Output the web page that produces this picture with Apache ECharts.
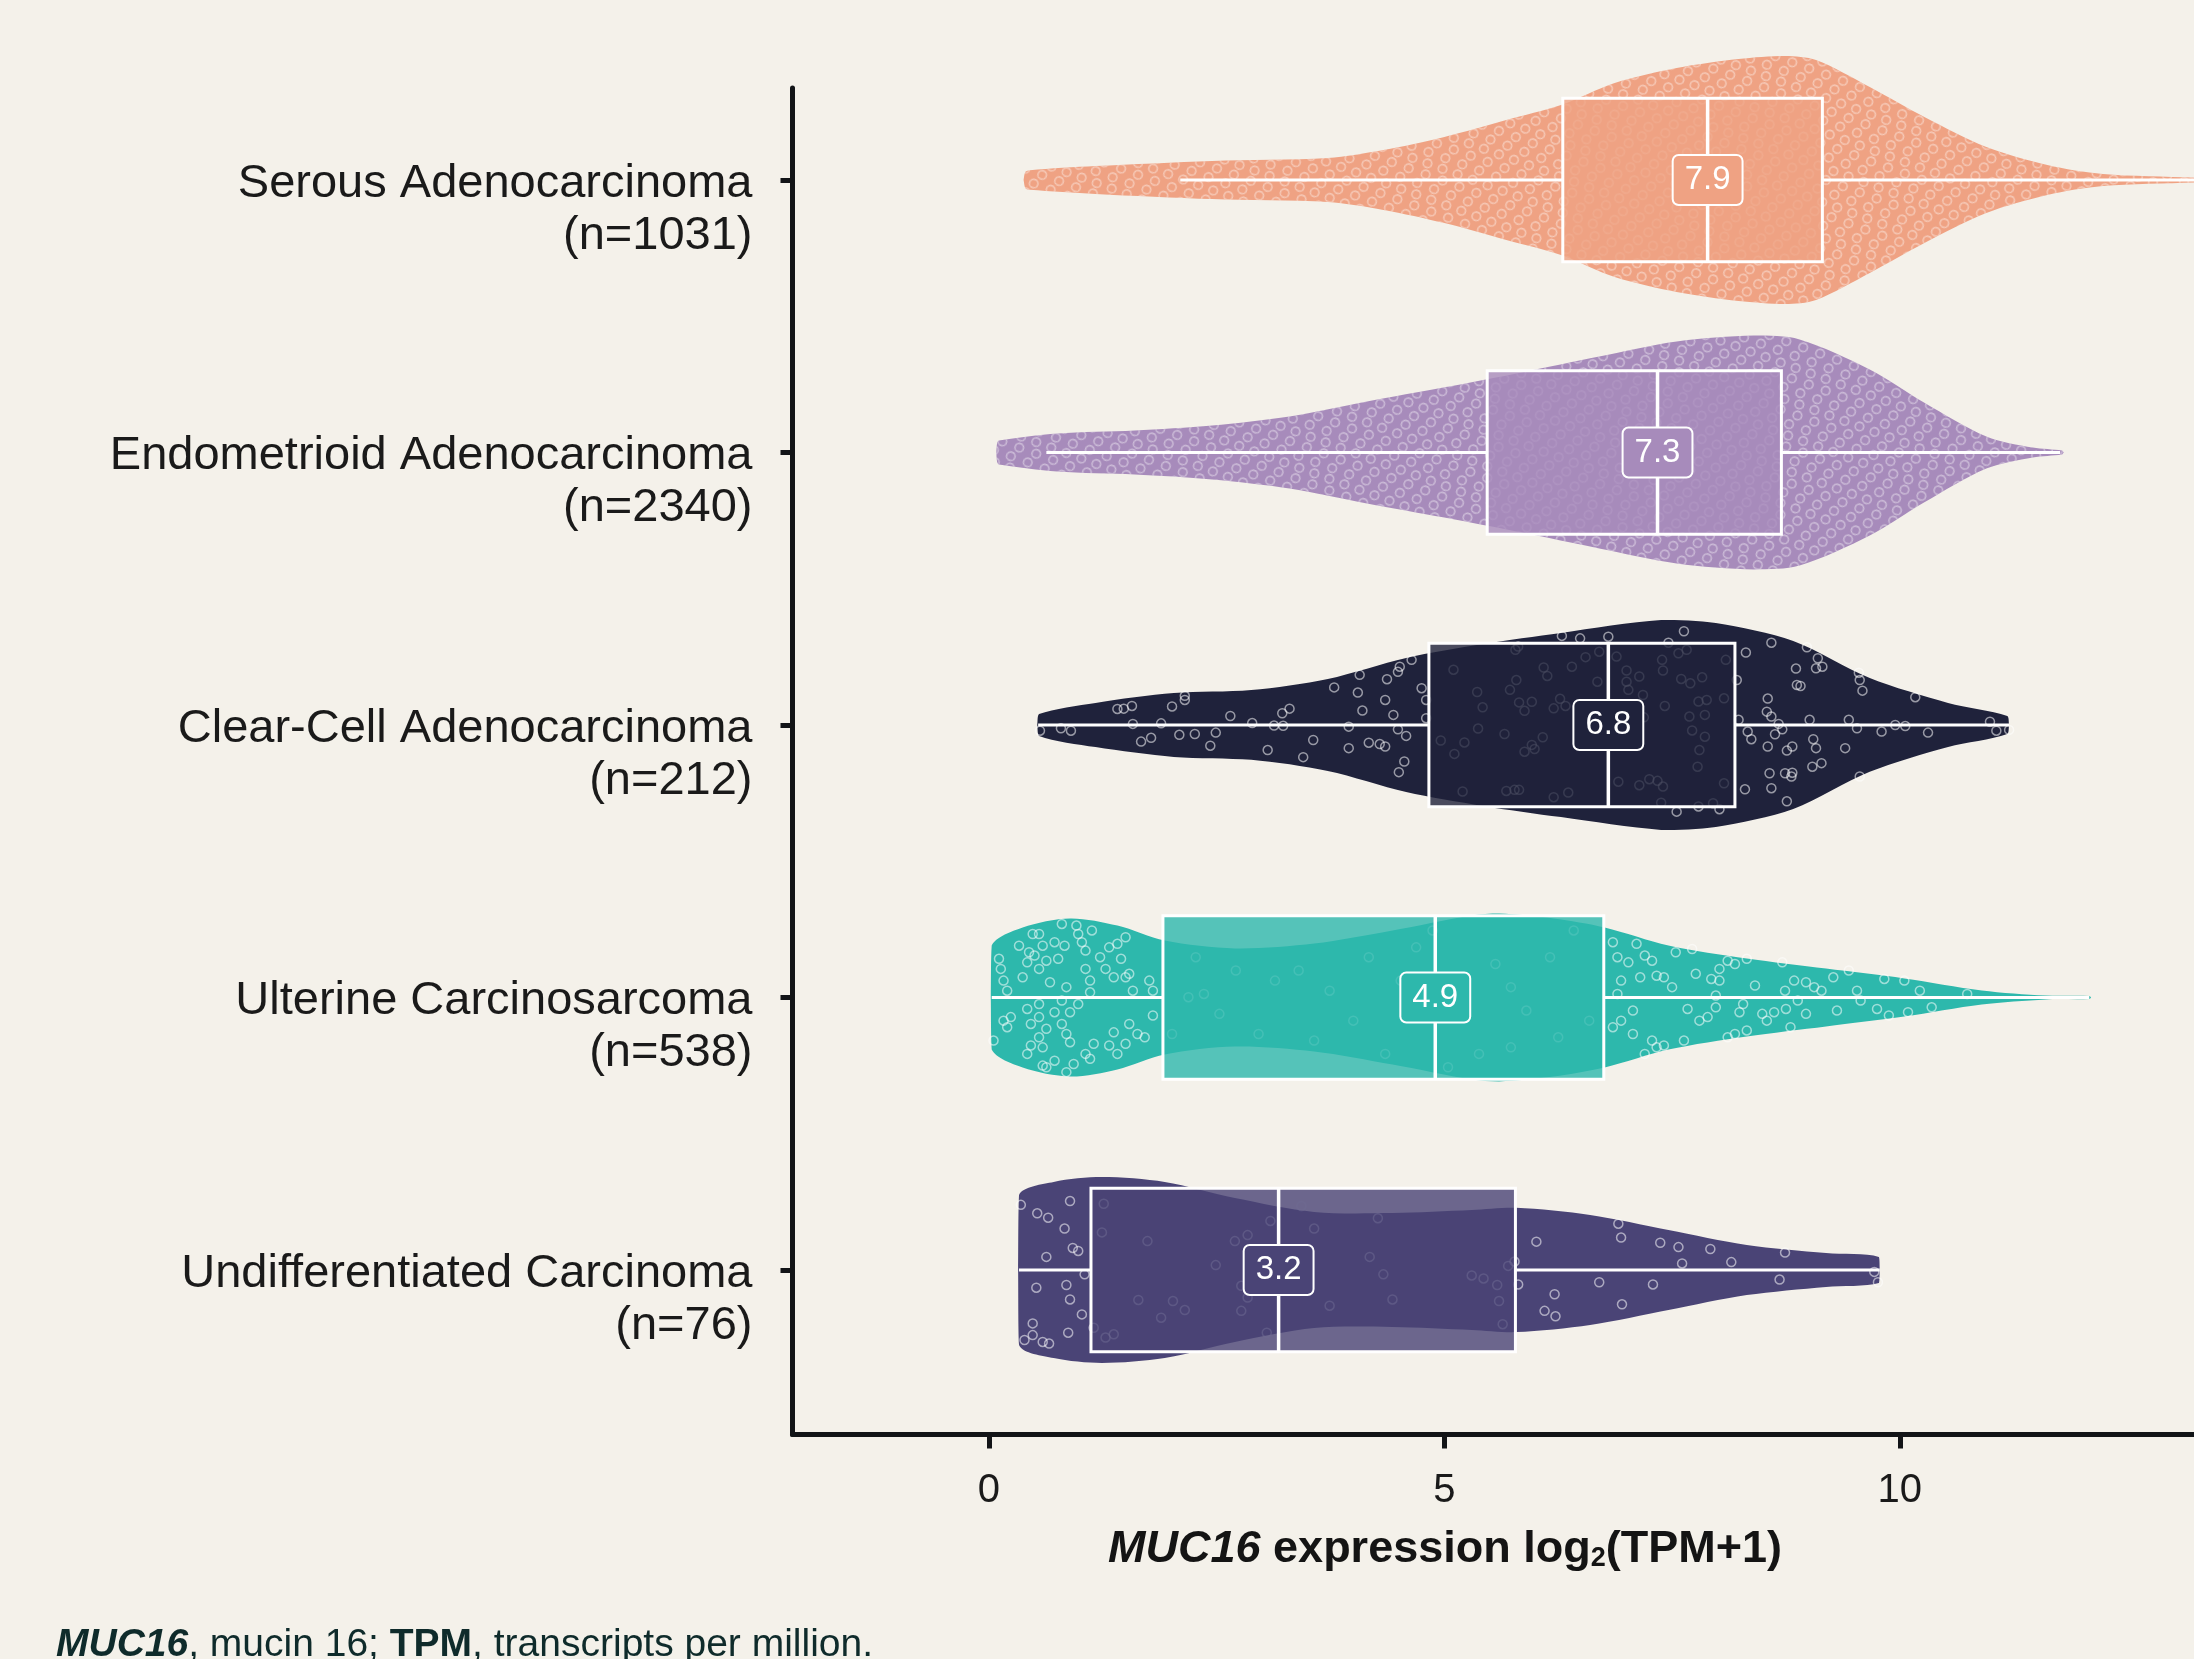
<!DOCTYPE html>
<html lang="en">
	<head>
		<meta charset="utf-8" />
		<title>MUC16 expression by histology</title>
		<style>
			html, body { margin: 0; background: #f4f1ea; }
		</style>
	</head>
	<body>
		<div id="main" style="width: 2194px;height: 1659px"></div>

		<script src="https://cdn.jsdelivr.net/npm/echarts@6/dist/echarts.min.js"></script>
		<script type="text/javascript">
			const categories = ['Serous Adenocarcinoma', 'Endometrioid Adenocarcinoma', 'Clear-Cell Adenocarcinoma', 'Ulterine Carcinosarcoma', 'Undifferentiated Carcinoma'];
			const counts = [1031, 2340, 212, 538, 76];
			const colors = ['#efa283', '#a78bbb', '#1f223b', '#2db8ac', '#4a4476'];
			const medians = [7.89, 7.34, 6.80, 4.90, 3.18];
			const q1 = [6.30, 5.47, 4.83, 1.91, 1.12];
			const q3 = [9.15, 8.70, 8.19, 6.75, 5.78];
			const whiskerLow = [2.10, 0.63, 0.54, 0.03, 0.33];
			const whiskerHigh = [13.4, 11.76, 11.20, 12.08, 9.78];
			const xTicks = [0, 5, 10];

			// violin outlines: [log2(TPM+1), half width in category units]
			const violinSerous = [[0.38, 0], [0.40, 0.03], [0.45, 0.036], [1.17, 0.051], [2.45, 0.070], [3.72, 0.081], [4.33, 0.110], [5.0, 0.158], [5.68, 0.220], [6.28, 0.275], [6.87, 0.356], [7.55, 0.411], [8.23, 0.444], [8.74, 0.455], [9.08, 0.440], [9.67, 0.341], [10.27, 0.231], [10.95, 0.121], [11.62, 0.055], [12.23, 0.022], [13.23, 0.009], [14.0, 0]];
			const violinEndometrioid = [[0.08, 0], [0.09, 0.035], [0.11, 0.044], [0.75, 0.070], [1.6, 0.081], [2.45, 0.099], [3.3, 0.132], [4.15, 0.187], [5.0, 0.239], [5.85, 0.294], [6.7, 0.352], [7.55, 0.407], [8.4, 0.429], [8.9, 0.415], [9.67, 0.305], [10.27, 0.183], [10.95, 0.059], [11.46, 0.018], [11.78, 0.007], [11.8, 0]];
			const violinClearCell = [[0.53, 0], [0.55, 0.040], [1.17, 0.081], [2.03, 0.117], [2.88, 0.128], [3.72, 0.169], [4.58, 0.246], [5.42, 0.297], [6.28, 0.338], [7.38, 0.385], [7.98, 0.374], [8.83, 0.308], [9.67, 0.172], [10.53, 0.081], [11.18, 0.033], [11.2, 0]];
			const violinUterine = [[0.02, 0], [0.03, 0.191], [0.37, 0.257], [0.89, 0.290], [1.41, 0.264], [1.93, 0.209], [2.7, 0.180], [3.57, 0.198], [4.43, 0.246], [5.3, 0.301], [5.6, 0.308], [6.2, 0.290], [6.76, 0.257], [7.46, 0.191], [8.32, 0.143], [9.19, 0.106], [10.05, 0.070], [10.9, 0.026], [11.6, 0.007], [12.08, 0.0055], [12.1, 0]];
			const violinUndiff = [[0.32, 0], [0.33, 0.275], [0.71, 0.323], [1.24, 0.341], [1.93, 0.323], [2.7, 0.264], [3.57, 0.213], [4.43, 0.209], [5.3, 0.220], [5.79, 0.228], [6.6, 0.202], [7.46, 0.147], [8.32, 0.092], [9.19, 0.062], [9.77, 0.048], [9.78, 0]];
			const violins = [violinSerous, violinEndometrioid, violinClearCell, violinUterine, violinUndiff];

			// individual samples: [value, jitter in category units]
			const dotsClearCell = [[0.56, 0.021], [0.79, 0.012], [0.90, 0.021], [1.41, -0.059], [1.48, -0.060], [1.57, -0.070], [1.58, -0.004], [1.67, 0.061], [1.78, 0.047], [1.89, -0.006], [2.01, -0.068], [2.09, 0.036], [2.15, -0.092], [2.15, -0.107], [2.26, 0.033], [2.43, 0.076], [2.49, 0.028], [2.65, -0.033], [2.89, -0.007], [3.06, 0.092], [3.13, 0.002], [3.22, -0.043], [3.23, 0.003], [3.30, -0.060], [3.45, 0.118], [3.56, 0.055], [3.79, -0.138], [3.95, 0.006], [3.95, 0.085], [4.05, -0.119], [4.07, -0.184], [4.10, -0.053], [4.17, 0.065], [4.29, 0.070], [4.35, 0.079], [4.35, -0.092], [4.37, -0.168], [4.44, -0.037], [4.49, 0.016], [4.49, -0.195], [4.51, -0.214], [4.56, 0.134], [4.58, 0.040], [4.50, 0.173], [4.64, -0.239], [4.75, -0.135], [4.80, -0.092], [4.80, -0.025],
				[5.10, -0.203], [4.96, 0.057], [5.11, 0.106], [5.20, 0.244], [5.22, 0.064], [5.37, 0.013], [5.36, -0.121], [5.42, -0.065], [5.66, 0.033], [5.72, -0.129], [5.79, -0.165], [5.82, -0.083], [5.88, -0.052], [5.96, -0.085], [5.88, 0.098], [5.99, 0.088], [6.08, 0.045], [5.96, 0.073], [6.09, -0.211], [6.13, -0.180], [6.20, -0.061], [6.27, -0.096], [6.33, -0.070], [6.20, 0.265], [6.36, 0.248], [5.68, 0.242], [5.77, 0.238], [5.82, 0.238], [5.78, -0.276], [5.81, -0.288], [6.29, -0.327], [6.49, -0.318], [6.55, -0.249], [6.40, -0.214], [6.68, -0.159], [6.70, -0.269], [6.80, -0.324], [6.89, -0.251], [7.00, -0.200], [7.00, -0.159], [7.02, -0.129], [7.14, -0.178], [7.18, -0.110], [7.19, -0.028], [6.91, 0.208], [7.14, 0.221], [7.25, 0.199], [7.34, 0.205], [7.40, 0.226], [7.42, -0.070], [7.39, -0.239], [7.40, -0.200], [7.46, -0.302], [7.57, -0.263], [7.63, -0.344], [7.60, -0.169], [7.66, -0.276], [7.70, -0.153], [7.69, -0.031], [7.72, 0.020], [7.79, -0.086], [7.83, -0.175], [7.86, -0.037], [7.86, 0.043], [7.88, -0.092], [7.80, 0.092], [7.78, 0.153], [8.07, -0.098], [8.09, -0.239], [8.07, 0.214], [7.38, 0.285], [7.55, 0.318], [7.79, 0.299], [8.02, 0.309], [7.95, 0.287],
				[8.21, -0.165], [8.23, -0.019], [8.31, -0.266], [8.33, 0.024], [8.37, 0.052], [8.55, -0.097], [8.54, -0.049], [8.59, -0.031], [8.55, 0.079], [8.59, -0.302], [8.67, -0.004], [8.71, 0.016], [8.63, 0.034], [8.76, 0.094], [8.82, 0.079], [8.87, -0.147], [8.91, -0.143], [8.86, -0.207], [8.98, -0.285], [9.01, -0.019], [9.05, 0.052], [9.08, -0.208], [9.10, -0.245], [9.15, -0.214], [8.57, 0.177], [8.74, 0.177], [8.81, 0.189], [8.82, 0.175], [9.04, 0.153], [9.14, 0.140], [9.08, 0.085], [9.40, 0.085], [9.44, -0.019], [9.53, 0.012], [9.55, -0.192], [9.56, -0.165], [9.59, -0.126], [9.56, 0.189], [9.80, 0.024], [9.95, 0.000], [10.06, 0.004], [10.17, -0.102], [10.31, 0.028], [10.99, -0.012], [11.06, 0.021], [11.20, 0.018], [8.30, 0.236], [8.59, 0.232], [8.76, 0.280]];
			const dotsUterine = [[0.11, -0.142], [0.13, -0.105], [0.16, -0.062], [0.20, -0.025], [0.33, -0.190], [0.37, -0.074], [0.42, -0.129], [0.44, -0.166], [0.48, -0.233], [0.50, -0.154], [0.55, -0.105], [0.55, -0.233], [0.59, -0.190], [0.63, -0.135], [0.67, -0.056], [0.72, -0.203], [0.76, -0.142], [0.80, -0.270], [0.83, -0.190], [0.85, -0.038], [0.96, -0.264], [0.98, -0.233], [1.02, -0.203], [1.06, -0.172], [1.06, -0.105], [1.11, -0.062], [1.13, -0.246], [1.22, -0.148], [1.28, -0.105], [1.32, -0.184], [1.37, -0.074], [1.41, -0.197], [1.45, -0.142], [1.50, -0.074], [1.50, -0.221], [1.54, -0.087], [1.58, -0.025], [1.76, -0.062], [1.80, -0.025],
				[0.24, 0.072], [0.16, 0.085], [0.42, 0.042], [0.46, 0.097], [0.55, 0.072], [0.63, 0.115], [0.72, 0.054], [0.80, 0.097], [0.85, 0.134], [0.89, 0.164], [0.55, 0.146], [0.46, 0.176], [0.42, 0.207], [0.59, 0.183], [0.72, 0.232], [0.63, 0.256], [0.85, 0.274], [0.93, 0.244], [1.06, 0.207], [1.11, 0.225], [1.15, 0.170], [1.32, 0.176], [1.37, 0.128], [1.50, 0.170], [1.54, 0.097], [1.63, 0.134], [1.71, 0.146], [1.80, 0.066], [1.41, 0.207], [0.05, 0.158], [0.55, 0.024], [0.98, 0.024], [1.11, -0.019], [0.89, 0.054], [0.20, 0.109], [0.80, 0.011], [0.59, 0.250],
				[2.19, -0.001], [2.36, -0.013], [2.71, -0.099], [3.14, -0.062], [3.40, -0.099], [3.74, -0.025], [4.00, 0.085], [4.17, -0.148], [4.52, -0.062], [4.69, -0.184], [5.21, 0.072], [5.56, -0.123], [5.73, -0.038], [5.90, 0.048], [6.16, -0.148], [6.25, 0.146], [6.59, 0.085], [2.53, 0.060], [2.96, 0.134], [3.57, 0.158], [4.35, 0.207], [5.04, 0.256], [5.38, 0.207], [5.73, 0.183], [6.42, -0.246], [4.87, -0.246], [2.27, -0.148], [2.01, 0.134],
				[6.85, -0.203], [6.90, -0.148], [6.94, -0.062], [7.02, -0.129], [7.07, 0.048], [7.11, -0.197], [7.15, -0.074], [7.20, -0.154], [7.28, -0.135], [7.33, -0.080], [7.41, -0.074], [7.50, -0.038], [7.54, -0.166], [7.72, -0.178], [7.76, -0.087], [7.67, 0.042], [7.63, 0.158], [7.80, 0.085], [7.89, 0.072], [7.93, -0.068], [7.98, -0.007], [8.02, -0.062], [8.02, -0.105], [8.11, -0.135], [8.19, -0.123], [8.28, 0.024], [8.32, -0.142], [8.41, -0.044], [8.49, 0.060], [8.54, 0.085], [8.71, -0.129], [8.74, -0.025], [8.75, 0.042], [8.80, 0.109], [8.88, 0.011], [8.97, -0.056], [9.06, -0.038], [9.14, -0.025], [9.27, -0.074], [9.31, 0.048], [9.44, -0.099], [9.53, -0.025], [9.57, 0.011], [9.75, 0.042], [9.83, -0.068], [9.88, 0.066], [10.05, -0.062], [10.09, 0.054], [10.22, -0.025], [10.35, 0.036], [10.74, -0.013], [8.84, -0.062], [8.32, 0.121], [8.19, 0.134], [8.11, 0.146], [7.28, 0.158], [7.33, 0.183], [7.41, 0.176], [7.20, 0.207], [7.07, 0.134], [6.94, 0.085], [6.85, 0.109], [6.90, -0.013], [8.24, 0.054], [7.98, 0.036], [8.62, 0.054], [8.97, 0.060]];
			const dotsUndiff = [[0.35, -0.239], [0.89, -0.253], [0.53, -0.208], [0.65, -0.192], [0.83, -0.152], [0.92, -0.081], [0.98, -0.070], [0.63, -0.048], [1.05, 0.016], [0.52, 0.065], [0.85, 0.055], [0.89, 0.108], [1.02, 0.163], [0.48, 0.196], [0.48, 0.239], [0.39, 0.257], [0.59, 0.264], [0.66, 0.270], [0.87, 0.230], [1.26, -0.243], [1.24, -0.138], [1.74, -0.106], [2.49, -0.018], [2.70, -0.106], [2.84, -0.128], [3.09, -0.180], [3.43, -0.235], [3.57, -0.152], [2.77, 0.058], [2.84, 0.101], [2.77, 0.150], [2.15, 0.147], [2.02, 0.114], [1.64, 0.110], [1.89, 0.175], [1.15, 0.212], [1.28, 0.248], [1.37, 0.236], [3.05, 0.230], [3.74, 0.131], [4.18, -0.048], [4.33, 0.016], [4.43, 0.108], [4.27, -0.190], [5.30, 0.020], [5.43, 0.031], [5.58, 0.055], [5.70, -0.015], [5.77, -0.031], [5.60, 0.114], [5.64, 0.199], [5.81, 0.053], [6.01, -0.104], [6.21, 0.089], [6.10, 0.150], [6.22, 0.170], [6.70, 0.045], [6.91, -0.170], [6.94, -0.119], [6.95, 0.126], [7.29, 0.053], [7.37, -0.100], [7.57, -0.084], [7.61, -0.024], [7.92, -0.077], [8.15, -0.029], [8.74, -0.064], [8.68, 0.035], [9.72, 0.007], [9.76, 0.045]];
			const dotsByGroup = [[], [], dotsClearCell, dotsUterine, dotsUndiff];

			const FONT = 'Liberation Sans';
			const BOX_HALF = 0.3;

			// dense groups: too many samples to read one by one, shown as a ring texture
			const ringDecal = {
				symbol: 'path://M0,5A5,5 0 1,1 10,5A5,5 0 1,1 0,5ZM1.4,5A3.6,3.6 0 1,0 8.6,5A3.6,3.6 0 1,0 1.4,5Z',
				symbolSize: 1,
				color: 'rgba(255,255,255,0.45)',
				dashArrayX: [[10, 6], [0, 8, 10, 0], [0, 3, 10, 5]],
				dashArrayY: [10, 1],
				rotation: 0.35
			};

			function rgba(hex, a) {
				const n = parseInt(hex.slice(1), 16);
				return `rgba(${(n >> 16) & 255},${(n >> 8) & 255},${n & 255},${a})`;
			}

			function renderViolin(params, api) {
				const i = params.dataIndex;
				const prof = violins[i];
				const top = prof.map(p => api.coord([p[0], i - p[1]]));
				const bottom = prof.slice().reverse().map(p => api.coord([p[0], i + p[1]]));
				const pts = top.concat(bottom);
				const xs = pts.map(p => p[0]);
				const ys = pts.map(p => p[1]);
				const style = { fill: colors[i] };
				if (dotsByGroup[i].length === 0) style.decal = ringDecal;
				return {
					type: 'polygon',
					shape: {
						points: pts,
						smooth: 0.3,
						smoothConstraint: [[Math.min(...xs), Math.min(...ys)], [Math.max(...xs), Math.max(...ys)]]
					},
					style
				};
			}

			function renderBox(params, api) {
				const i = params.dataIndex;
				const tl = api.coord([q1[i], i - BOX_HALF]);
				const br = api.coord([q3[i], i + BOX_HALF]);
				const m0 = api.coord([medians[i], i - BOX_HALF]);
				const m1 = api.coord([medians[i], i + BOX_HALF]);
				const mc = api.coord([medians[i], i]);
				const wl = api.coord([whiskerLow[i], i]);
				const c1 = api.coord([q1[i], i]);
				const c3 = api.coord([q3[i], i]);
				const wh = api.coord([whiskerHigh[i], i]);
				const white = { stroke: '#ffffff', lineWidth: 3 };
				return {
					type: 'group',
					children: [
						{ type: 'line', shape: { x1: wl[0], y1: wl[1], x2: c1[0], y2: c1[1] }, style: white },
						{ type: 'line', shape: { x1: c3[0], y1: c3[1], x2: wh[0], y2: wh[1] }, style: white },
						{
							type: 'rect',
							shape: { x: tl[0], y: tl[1], width: br[0] - tl[0], height: br[1] - tl[1] },
							style: { fill: rgba(colors[i], 0.8), stroke: '#ffffff', lineWidth: 3 }
						},
						{ type: 'line', shape: { x1: m0[0], y1: m0[1], x2: m1[0], y2: m1[1] }, style: { stroke: '#ffffff', lineWidth: 3.5 } },
						{
							type: 'text',
							x: mc[0],
							y: mc[1],
							style: {
								text: medians[i].toFixed(1),
								fill: '#ffffff',
								font: `33px "${FONT}"`,
								align: 'center',
								verticalAlign: 'middle',
								backgroundColor: colors[i],
								borderColor: '#ffffff',
								borderWidth: 2,
								borderRadius: 5,
								padding: [8, 11, 7, 11]
							}
						}
					]
				};
			}

			const dotData = [];
			dotsByGroup.forEach((dots, i) => dots.forEach(d => dotData.push([d[0], i + d[1]])));

			const myChart = echarts.init(document.getElementById('main'));
			const option = {
				backgroundColor: '#f4f1ea',
				animation: false,
				textStyle: { fontFamily: FONT },
				grid: { left: 792.5, right: 0, top: 88, bottom: 224.5 },
				xAxis: {
					type: 'value',
					min: -2.157,
					max: 13.23,
					splitLine: { show: false },
					axisLine: { onZero: false, lineStyle: { color: '#121417', width: 5 } },
					axisTick: { customValues: xTicks, length: 14, lineStyle: { color: '#121417', width: 5 } },
					axisLabel: { customValues: xTicks, margin: 36, fontSize: 40, color: '#1a1a1a', fontFamily: FONT }
				},
				yAxis: {
					type: 'value',
					inverse: true,
					min: -0.3376,
					max: 4.6037,
					splitLine: { show: false },
					axisLine: { show: true, onZero: false, lineStyle: { color: '#121417', width: 5 } },
					axisTick: { show: true, customValues: [0, 1, 2, 3, 4], length: 12, lineStyle: { color: '#121417', width: 5 } },
					axisLabel: {
						customValues: [0, 1, 2, 3, 4],
						// blank first line so the name sits on the tick and the count hangs below it
						formatter: v => `{gap| }\n{t|${categories[v]}}\n{t|(n=${counts[v]})}`,
						align: 'right',
						margin: 40,
						color: '#1a1a1a',
						fontFamily: FONT,
						rich: {
							gap: { fontSize: 20, lineHeight: 60 },
							t: { fontSize: 47, lineHeight: 52, color: '#1a1a1a', fontFamily: FONT }
						}
					}
				},
				title: [
					{
						text: '{i|MUC16}{b| expression log}{s|2}{b|(TPM+1)}',
						left: 1445,
						top: 1527,
						textAlign: 'center',
						padding: 0,
						textStyle: {
							fontWeight: 'bold',
							rich: {
								i: { fontSize: 45, fontWeight: 'bold', fontStyle: 'italic', color: '#141414', fontFamily: FONT },
								b: { fontSize: 45, fontWeight: 'bold', color: '#141414', fontFamily: FONT },
								s: { fontSize: 27, fontWeight: 'bold', color: '#141414', fontFamily: FONT, padding: [18, 0, 0, 0] }
							}
						}
					},
					{
						text: '{bi|MUC16}{r|, mucin 16; }{b|TPM}{r|, transcripts per million.}',
						left: 56,
						top: 1626,
						padding: 0,
						textStyle: {
							fontWeight: 'normal',
							rich: {
								bi: { fontSize: 39, fontWeight: 'bold', fontStyle: 'italic', color: '#0f2b2b', fontFamily: FONT },
								b: { fontSize: 39, fontWeight: 'bold', color: '#0f2b2b', fontFamily: FONT },
								r: { fontSize: 39, fontWeight: 'normal', color: '#0f2b2b', fontFamily: FONT }
							}
						}
					}
				],
				series: [
					{
						type: 'custom',
						name: 'violin',
						z: 2,
						clip: false,
						silent: true,
						renderItem: renderViolin,
						data: categories.map((c, i) => [medians[i], i])
					},
					{
						type: 'scatter',
						name: 'samples',
						z: 3,
						silent: true,
						symbol: 'circle',
						symbolSize: 9,
						itemStyle: { color: 'rgba(0,0,0,0)', borderColor: 'rgba(255,255,255,0.68)', borderWidth: 1.5 },
						data: dotData
					},
					{
						type: 'custom',
						name: 'box',
						z: 4,
						clip: false,
						silent: true,
						renderItem: renderBox,
						data: categories.map((c, i) => [medians[i], i])
					}
				]
			};
			myChart.setOption(option);
		</script>
	</body>
</html>
